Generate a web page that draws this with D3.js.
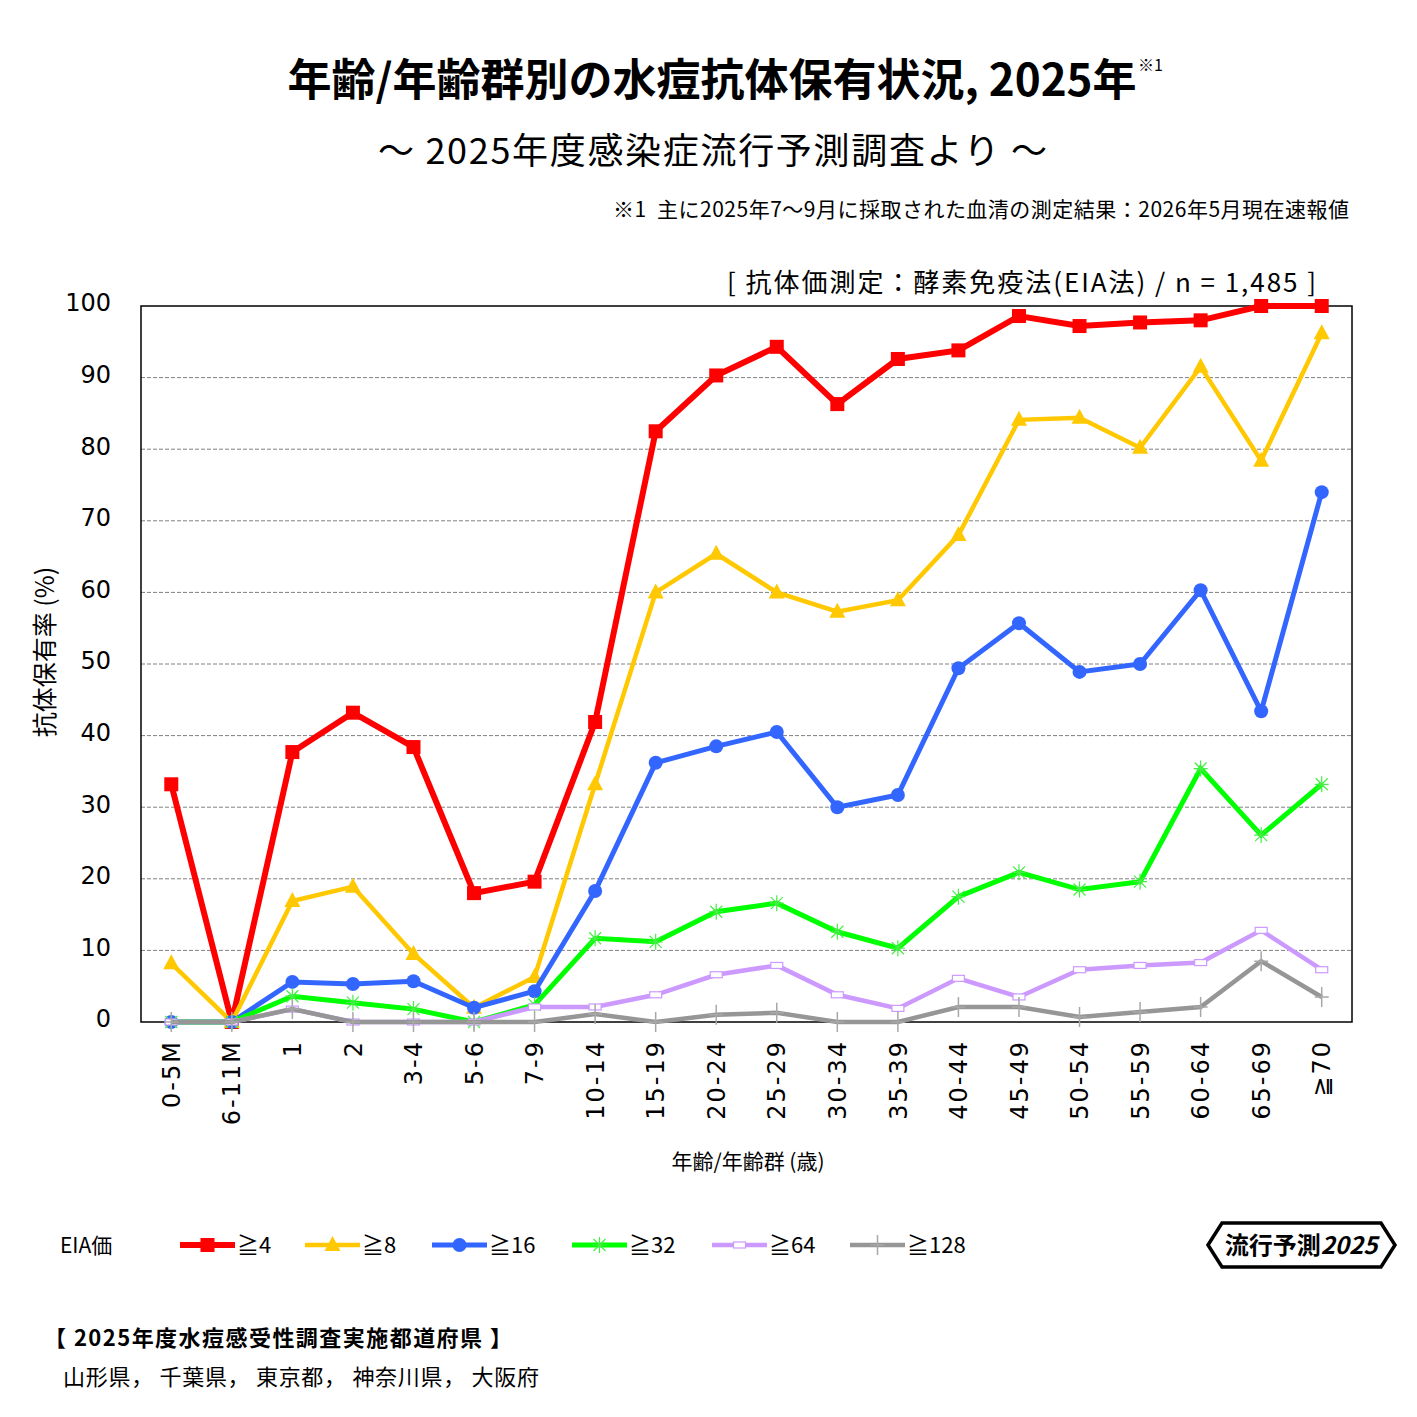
<!DOCTYPE html>
<html>
<head>
<meta charset="utf-8">
<script src="https://cdn.jsdelivr.net/npm/d3@7"></script>
<style>
  body { margin: 0; background: #fff; }
  .jp { font-family: "Noto Sans CJK JP", sans-serif; white-space: pre; }
  .num { font-family: "DejaVu Sans", Verdana, sans-serif; }
</style>
</head>
<body>
<div id="chart"></div>
<script>
// age groups on the x axis
const ageGroups = ["0-5M","6-11M","1","2","3-4","5-6","7-9","10-14","15-19","20-24",
  "25-29","30-34","35-39","40-44","45-49","50-54","55-59","60-64","65-69","≧70"];

// antibody positive rate (%) by EIA titre
const ge4   = [33.2, 0, 37.7, 43.2, 38.4, 18.0, 19.6, 41.9, 82.5, 90.3, 94.3, 86.3, 92.6, 93.8, 98.6, 97.2, 97.7, 98.0, 100, 100];
const ge8   = [8.2, 0, 16.9, 18.9, 9.5, 2.0, 6.3, 33.2, 60.0, 65.4, 60.0, 57.3, 58.9, 68.0, 84.1, 84.4, 80.2, 91.5, 78.4, 96.2];
const ge16  = [0, 0, 5.6, 5.3, 5.7, 2.0, 4.3, 18.3, 36.2, 38.5, 40.5, 30.0, 31.7, 49.4, 55.7, 48.9, 50.0, 60.3, 43.4, 74.0];
const ge32  = [0, 0, 3.6, 2.7, 1.8, 0, 2.4, 11.7, 11.2, 15.4, 16.6, 12.6, 10.3, 17.5, 20.9, 18.5, 19.6, 35.4, 26.1, 33.2];
const ge64  = [0, 0, 1.8, 0, 0, 0, 2.1, 2.1, 3.8, 6.6, 7.9, 3.8, 1.9, 6.1, 3.5, 7.3, 7.9, 8.3, 12.8, 7.3];
const ge128 = [0, 0, 1.8, 0, 0, 0, 0, 1.1, 0, 1.0, 1.3, 0, 0, 2.1, 2.1, 0.7, 1.4, 2.1, 8.5, 3.5];

const seriesNames = ["≧4", "≧8", "≧16", "≧32", "≧64", "≧128"];
const yTicks = [0, 10, 20, 30, 40, 50, 60, 70, 80, 90, 100];

const series = [
  {name: seriesNames[0], values: ge4,   color: "#ff0000", width: 6,   marker: "square"},
  {name: seriesNames[1], values: ge8,   color: "#ffc800", width: 4.5, marker: "triangle"},
  {name: seriesNames[2], values: ge16,  color: "#3366ff", width: 5,   marker: "circle"},
  {name: seriesNames[3], values: ge32,  color: "#00ff00", width: 5,   marker: "star"},
  {name: seriesNames[4], values: ge64,  color: "#cc99ff", width: 4.5, marker: "dash"},
  {name: seriesNames[5], values: ge128, color: "#969696", width: 4.5, marker: "plus"}
];

const W = 1417, H = 1417;
const margin = {top: 306, right: 65, bottom: 395, left: 141};

const svg = d3.select("#chart").append("svg")
  .attr("width", W)
  .attr("height", H);

// scales
const x = d3.scaleBand()
  .domain(ageGroups)
  .range([margin.left, W - margin.right]);

const y = d3.scaleLinear()
  .domain([0, 100])
  .range([H - margin.bottom, margin.top]);

const cx = d => x(d) + x.bandwidth() / 2;

// titles
svg.append("text")
  .attr("class", "jp")
  .attr("x", 712).attr("y", 96)
  .attr("text-anchor", "middle")
  .style("font-size", "44px").style("font-weight", "bold")
  .text("年齢/年齢群別の水痘抗体保有状況, 2025年");

svg.append("text")
  .attr("class", "jp")
  .attr("x", 1138).attr("y", 71)
  .style("font-size", "16px")
  .text("※1");

svg.append("text")
  .attr("class", "jp")
  .attr("x", 378).attr("y", 164)
  .attr("textLength", 669)
  .attr("lengthAdjust", "spacing")
  .style("font-size", "36px")
  .text("～ 2025年度感染症流行予測調査より ～");

svg.append("text")
  .attr("class", "jp")
  .attr("x", 613).attr("y", 217)
  .attr("textLength", 736)
  .attr("lengthAdjust", "spacing")
  .style("font-size", "21px")
  .text("※1  主に2025年7～9月に採取された血清の測定結果：2026年5月現在速報値");

svg.append("text")
  .attr("class", "jp")
  .attr("x", 727).attr("y", 292)
  .attr("textLength", 589)
  .attr("lengthAdjust", "spacing")
  .style("font-size", "26px")
  .text("[ 抗体価測定：酵素免疫法(EIA法) / n = 1,485 ]");

// gridlines
svg.append("g")
  .selectAll("line")
  .data(yTicks.filter(t => t > 0 && t < 100))
  .join("line")
  .attr("x1", margin.left).attr("x2", W - margin.right)
  .attr("y1", d => y(d)).attr("y2", d => y(d))
  .attr("stroke", "#808080")
  .attr("stroke-width", 1)
  .attr("stroke-dasharray", "4,2");

// y axis
const yAxis = svg.append("g")
  .attr("transform", "translate(" + margin.left + ",0)")
  .call(d3.axisLeft(y).tickValues(yTicks).tickSize(0).tickPadding(30));
yAxis.select(".domain").remove();
yAxis.selectAll("text")
  .attr("class", "num")
  .style("font-size", "24px")
  .attr("fill", "#000")
  .attr("dy", "0.2em");

// x axis
const xAxis = svg.append("g")
  .attr("transform", "translate(0," + (H - margin.bottom) + ")")
  .call(d3.axisBottom(x).tickSize(0));
xAxis.select(".domain").remove();
xAxis.selectAll("text")
  .attr("class", "num")
  .style("font-size", "24px")
  .style("letter-spacing", "2px")
  .attr("fill", "#000")
  .attr("text-anchor", "end")
  .attr("transform", "rotate(-90)")
  .attr("x", -18)
  .attr("y", 0)
  .attr("dy", "0.36em");

// plot frame
svg.append("rect")
  .attr("x", margin.left).attr("y", margin.top)
  .attr("width", W - margin.right - margin.left)
  .attr("height", H - margin.bottom - margin.top)
  .attr("fill", "none")
  .attr("stroke", "#000")
  .attr("stroke-width", 1.5);

// axis titles
svg.append("text")
  .attr("class", "jp")
  .attr("transform", "translate(54,652) rotate(-90)")
  .attr("text-anchor", "middle")
  .style("font-size", "25px")
  .text("抗体保有率 (%)");

svg.append("text")
  .attr("class", "jp")
  .attr("x", 748).attr("y", 1169)
  .attr("text-anchor", "middle")
  .style("font-size", "21px")
  .text("年齢/年齢群 (歳)");

// marker drawing
function drawMarker(g, type, color) {
  if (type === "square") {
    g.append("rect").attr("x", -7).attr("y", -7).attr("width", 14).attr("height", 14).attr("fill", color);
  } else if (type === "triangle") {
    g.append("path").attr("d", "M0,-9L8,6L-8,6Z").attr("fill", color);
  } else if (type === "circle") {
    g.append("circle").attr("r", 7).attr("fill", color);
  } else if (type === "star") {
    g.append("path").attr("d", "M0,-8V8M-6,-6L6,6M-6,6L6,-6M-7,0H7")
      .attr("stroke", "#44ee44").attr("stroke-width", 1.2).attr("fill", "none");
  } else if (type === "dash") {
    g.append("rect").attr("x", -6).attr("y", -3).attr("width", 12).attr("height", 6)
      .attr("fill", "#fff").attr("stroke", color).attr("stroke-width", 1.2);
  } else if (type === "plus") {
    g.append("path").attr("d", "M0,-10V10M-7,0H7")
      .attr("stroke", "#a8a8a8").attr("stroke-width", 1.5).attr("fill", "none");
  }
}

const line = d3.line()
  .x((d, i) => cx(ageGroups[i]))
  .y(d => y(d));

series.forEach(s => {
  const g = svg.append("g");
  g.append("path")
    .datum(s.values)
    .attr("d", line)
    .attr("fill", "none")
    .attr("stroke", s.color)
    .attr("stroke-width", s.width)
    .attr("stroke-linejoin", "miter");
  g.selectAll(".pt")
    .data(s.values)
    .join("g")
    .attr("class", "pt")
    .attr("transform", (d, i) => "translate(" + cx(ageGroups[i]) + "," + y(d) + ")")
    .each(function() { drawMarker(d3.select(this), s.marker, s.color); });
});

// legend
const legend = svg.append("g");
legend.append("text")
  .attr("class", "jp")
  .attr("x", 60).attr("y", 1253)
  .style("font-size", "21px")
  .text("EIA価");

const legendX = [180, 305, 432, 572, 712, 850];
series.forEach((s, i) => {
  const lg = legend.append("g").attr("transform", "translate(" + legendX[i] + ",1245)");
  lg.append("line")
    .attr("x1", 0).attr("x2", 55)
    .attr("stroke", s.color)
    .attr("stroke-width", s.width);
  const m = lg.append("g").attr("transform", "translate(27.5,0)");
  drawMarker(m, s.marker, s.color);
  lg.append("text")
    .attr("class", "jp")
    .attr("x", 57).attr("y", 8)
    .style("font-size", "22px")
    .text(s.name);
});

// logo
svg.append("path")
  .attr("d", "M1208,1245L1222,1223H1381L1395,1245L1381,1267H1222Z")
  .attr("fill", "#fff")
  .attr("stroke", "#000")
  .attr("stroke-width", 3.5);
const logo = svg.append("text")
  .attr("class", "jp")
  .attr("x", 1301).attr("y", 1254)
  .attr("text-anchor", "middle")
  .style("font-size", "24px")
  .style("font-weight", "bold");
logo.append("tspan").text("流行予測");
logo.append("tspan").style("font-style", "italic").text("2025");

// prefectures
svg.append("text")
  .attr("class", "jp")
  .attr("x", 44).attr("y", 1346)
  .attr("textLength", 468)
  .attr("lengthAdjust", "spacing")
  .style("font-size", "22px")
  .style("font-weight", "bold")
  .text("【 2025年度水痘感受性調査実施都道府県 】");

svg.append("text")
  .attr("class", "jp")
  .attr("x", 63).attr("y", 1385)
  .attr("textLength", 476)
  .attr("lengthAdjust", "spacing")
  .style("font-size", "22px")
  .text("山形県， 千葉県， 東京都， 神奈川県， 大阪府");
</script>
</body>
</html>
